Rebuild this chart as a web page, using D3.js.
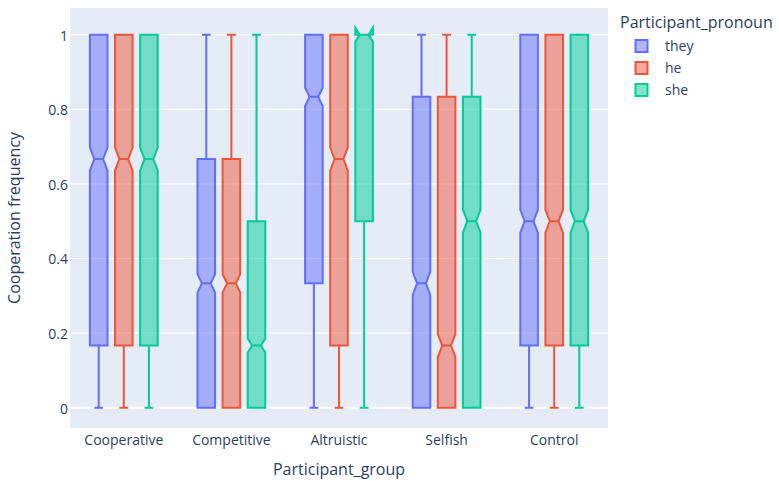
<!DOCTYPE html>
<html>
<head>
<meta charset="utf-8">
<script src="https://cdn.jsdelivr.net/npm/d3@7"></script>
<style>
  html, body { margin: 0; padding: 0; background: #fff; }
  svg { display: block; font-family: "Open Sans", sans-serif; }
</style>
</head>
<body>
<svg id="chart" width="779" height="481"></svg>
<script>
// Participant groups on the x axis
const groups = ["Cooperative", "Competitive", "Altruistic", "Selfish", "Control"];
// Pronoun series (legend order)
const pronouns = ["they", "he", "she"];
const colors = ["#636efa", "#EF553B", "#00cc96"];
// Approximate observations per box, used for the notch span
const sampleSizes = [1800, 1800, 1800];

// Five-number summaries per pronoun, one entry per group: [min, q1, median, q3, max]
const theyStats = [
  [0, 1/6, 2/3, 1, 1],
  [0, 0, 1/3, 2/3, 1],
  [0, 1/3, 5/6, 1, 1],
  [0, 0, 1/3, 5/6, 1],
  [0, 1/6, 1/2, 1, 1]
];
const heStats = [
  [0, 1/6, 2/3, 1, 1],
  [0, 0, 1/3, 2/3, 1],
  [0, 1/6, 2/3, 1, 1],
  [0, 0, 1/6, 5/6, 1],
  [0, 1/6, 1/2, 1, 1]
];
const sheStats = [
  [0, 1/6, 2/3, 1, 1],
  [0, 0, 1/6, 1/2, 1],
  [0, 1/2, 1, 1, 1],
  [0, 0, 1/2, 5/6, 1],
  [0, 1/6, 1/2, 1, 1]
];
const statsBySeries = [theyStats, heStats, sheStats];

const yTicks = [0, 0.2, 0.4, 0.6, 0.8, 1];
const yTickLabels = ["0", "0.2", "0.4", "0.6", "0.8", "1"];

const svg = d3.select("#chart");
const plot = { left: 70, top: 8, right: 608, bottom: 428 };
const textColor = "#2a3f5f";

const x = d3.scaleBand().domain(groups).range([plot.left, plot.right]).paddingInner(0).paddingOuter(0);
const y = d3.scaleLinear().domain([-0.0544, 1.0716]).range([plot.bottom, plot.top]);

// Plot background
svg.append("rect")
  .attr("x", plot.left).attr("y", plot.top)
  .attr("width", plot.right - plot.left).attr("height", plot.bottom - plot.top)
  .attr("fill", "#E5ECF6");

// Horizontal grid lines (zero line drawn thicker)
svg.append("g").selectAll("line").data(yTicks).join("line")
  .attr("x1", plot.left).attr("x2", plot.right)
  .attr("y1", d => y(d)).attr("y2", d => y(d))
  .attr("stroke", "#fff")
  .attr("stroke-width", d => d === 0 ? 2 : 1);

// Y axis tick labels
const yAxis = d3.axisLeft(y).tickValues(yTicks).tickFormat((d, i) => yTickLabels[i]).tickSize(0).tickPadding(2);
const yg = svg.append("g").attr("transform", `translate(${plot.left},0)`).call(yAxis);
yg.select(".domain").remove();
yg.selectAll("text").attr("dy", "0.39em").attr("fill", textColor)
  .style("font-size", "14px").style("font-family", "'Open Sans', sans-serif");

// X axis tick labels
const xAxis = d3.axisBottom(x).tickSize(0);
const xg = svg.append("g").attr("transform", `translate(0,${plot.bottom})`).call(xAxis);
xg.select(".domain").remove();
xg.selectAll("text").attr("y", 16.5).attr("dy", 0).attr("fill", textColor)
  .style("font-size", "14px").style("font-family", "'Open Sans', sans-serif");

// Axis titles
svg.append("text")
  .attr("x", (plot.left + plot.right) / 2).attr("y", 475)
  .attr("text-anchor", "middle").attr("fill", textColor).style("font-size", "16px")
  .text("Participant_group");
svg.append("text")
  .attr("transform", `translate(20,${(plot.top + plot.bottom) / 2}) rotate(-90)`)
  .attr("text-anchor", "middle").attr("fill", textColor).style("font-size", "16px")
  .text("Cooperation frequency");

// Grouped box layout: 30% gap between groups, 30% gap between boxes in a group
const groupWidth = x.bandwidth() * 0.7;
const slot = groupWidth / pronouns.length;
const halfBox = slot * 0.7 / 2;
const halfCap = halfBox * 0.5;
const notchInset = 0.5;

const boxes = svg.append("g");
pronouns.forEach((p, si) => {
  const color = colors[si];
  const g = boxes.append("g");
  statsBySeries[si].forEach((s, gi) => {
    const [mn, q1, med, q3, mx] = s;
    const cx = x(groups[gi]) + x.bandwidth() / 2 - groupWidth / 2 + slot * (si + 0.5);
    const notch = 1.57 * (q3 - q1) / Math.sqrt(sampleSizes[si]);
    const p0 = cx - halfBox, p1 = cx + halfBox;
    const pm0 = cx - halfBox * notchInset, pm1 = cx + halfBox * notchInset;
    const m = y(med), ln = y(med - notch), un = y(med + notch);
    const boxPath =
      `M${pm0},${m}L${p0},${ln}V${y(q1)}H${p1}V${ln}L${pm1},${m}` +
      `L${p1},${un}V${y(q3)}H${p0}V${un}Z` +
      `M${pm0},${m}H${pm1}`;
    const whiskerPath =
      `M${cx},${y(q1)}V${y(mn)}M${cx},${y(q3)}V${y(mx)}` +
      `M${cx - halfCap},${y(mn)}H${cx + halfCap}M${cx - halfCap},${y(mx)}H${cx + halfCap}`;
    g.append("path")
      .attr("d", boxPath + whiskerPath)
      .attr("fill", color).attr("fill-opacity", 0.5)
      .attr("stroke", color).attr("stroke-width", 2);
  });
});

// Legend
const legend = svg.append("g");
legend.append("text")
  .attr("x", 620).attr("y", 27.5)
  .attr("fill", textColor).style("font-size", "16px")
  .text("Participant_pronoun");
pronouns.forEach((p, i) => {
  const cy = 46 + i * 22;
  legend.append("rect")
    .attr("x", 635.5).attr("y", cy - 6).attr("width", 12).attr("height", 12)
    .attr("fill", colors[i]).attr("fill-opacity", 0.5)
    .attr("stroke", colors[i]).attr("stroke-width", 2);
  legend.append("text")
    .attr("x", 665).attr("y", cy + 5)
    .attr("fill", textColor).style("font-size", "14px")
    .text(p);
});
</script>
</body>
</html>
